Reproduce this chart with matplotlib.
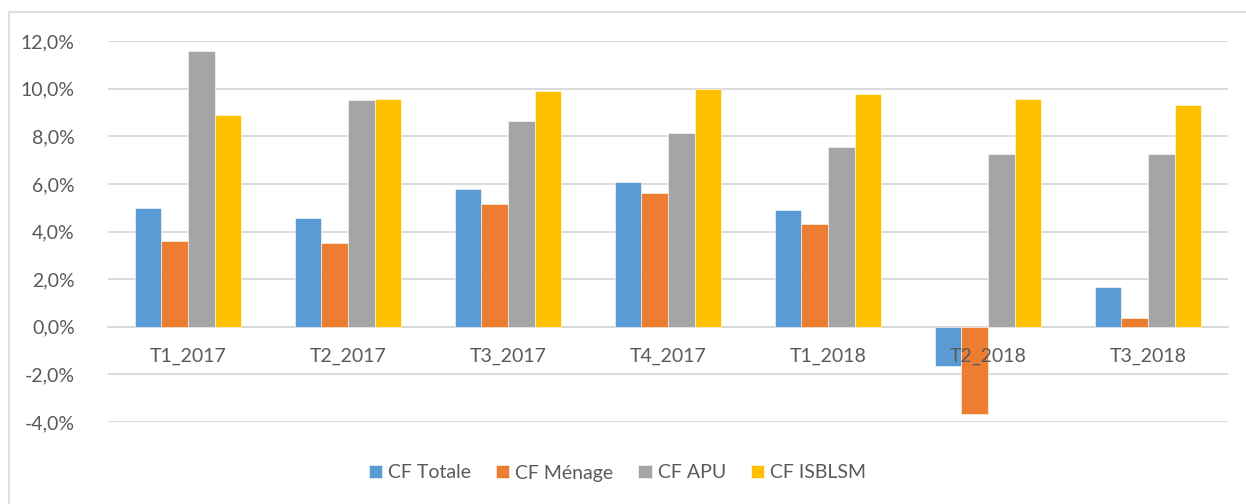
# Consommation finale - taux de croissance par trimestre

import numpy as np
import matplotlib
matplotlib.use("Agg")
import matplotlib.pyplot as plt
from matplotlib.patches import Rectangle
from matplotlib.ticker import FuncFormatter

plt.rcParams['font.family'] = ['Lato', 'DejaVu Sans']

# données
trimestres = ["T1_2017", "T2_2017", "T3_2017", "T4_2017", "T1_2018", "T2_2018", "T3_2018"]
cf_totale = [5.0, 4.55, 5.8, 6.08, 4.91, -1.64, 1.67]
cf_menage = [3.6, 3.5, 5.15, 5.6, 4.31, -3.68, 0.37]
cf_apu = [11.6, 9.53, 8.62, 8.14, 7.55, 7.26, 7.24]
cf_isblsm = [8.88, 9.55, 9.92, 10.0, 9.78, 9.55, 9.32]

series = [("CF Totale", cf_totale, "#5B9BD5"),
          ("CF Ménage", cf_menage, "#ED7D31"),
          ("CF APU", cf_apu, "#A5A5A5"),
          ("CF ISBLSM", cf_isblsm, "#FFC000")]

TXT = "#595959"
GRID = "#D9D9D9"
FS = 14

fig = plt.figure(figsize=(12.46, 5.04), dpi=100)
fig.patches.append(Rectangle((9 / 1246, -0.1), 1.2, 1 - 12 / 504 + 0.1,
                             transform=fig.transFigure, fill=False,
                             edgecolor=GRID, linewidth=1.2))

ax = fig.add_axes([108 / 1246, 1 - 422 / 504, 1120 / 1246, (422 - 41) / 504])

x = np.arange(len(trimestres))
w = 0.1667
for i, (nom, vals, col) in enumerate(series):
    ax.bar(x + (i - 1.5) * w, vals, width=w, color=col, label=nom,
           edgecolor="white", linewidth=0.4, zorder=3)

ax.set_xlim(-0.5, len(trimestres) - 0.5)
ax.set_ylim(-4, 12)
ax.set_yticks(np.arange(-4, 13, 2))
ax.yaxis.set_major_formatter(FuncFormatter(lambda v, p: f"{v:.1f}%".replace(".", ",")))
ax.grid(axis="y", color=GRID, linewidth=1.3, zorder=0)

for s in ["top", "right", "left"]:
    ax.spines[s].set_visible(False)
ax.spines["bottom"].set_position(("data", 0))
ax.spines["bottom"].set_color(GRID)
ax.spines["bottom"].set_linewidth(1.3)

# libellés des trimestres par-dessus les barres
ax.set_xticks([])
for xi, lab in zip(x, trimestres):
    ax.annotate(lab, (xi, 0), xytext=(0, -21.6), textcoords="offset points",
                ha="center", va="center", fontsize=FS, color=TXT, zorder=6)

ax.tick_params(axis="y", length=0, pad=24, labelsize=FS, labelcolor=TXT)

leg = fig.legend(loc="center", bbox_to_anchor=(617.5 / 1246, 1 - 473 / 504), ncol=4,
                 frameon=False, fontsize=FS, handlelength=0.67, handleheight=0.67,
                 handletextpad=0.31, columnspacing=1.29)
for t in leg.get_texts():
    t.set_color(TXT)

fig.savefig("out.png", dpi=100)
